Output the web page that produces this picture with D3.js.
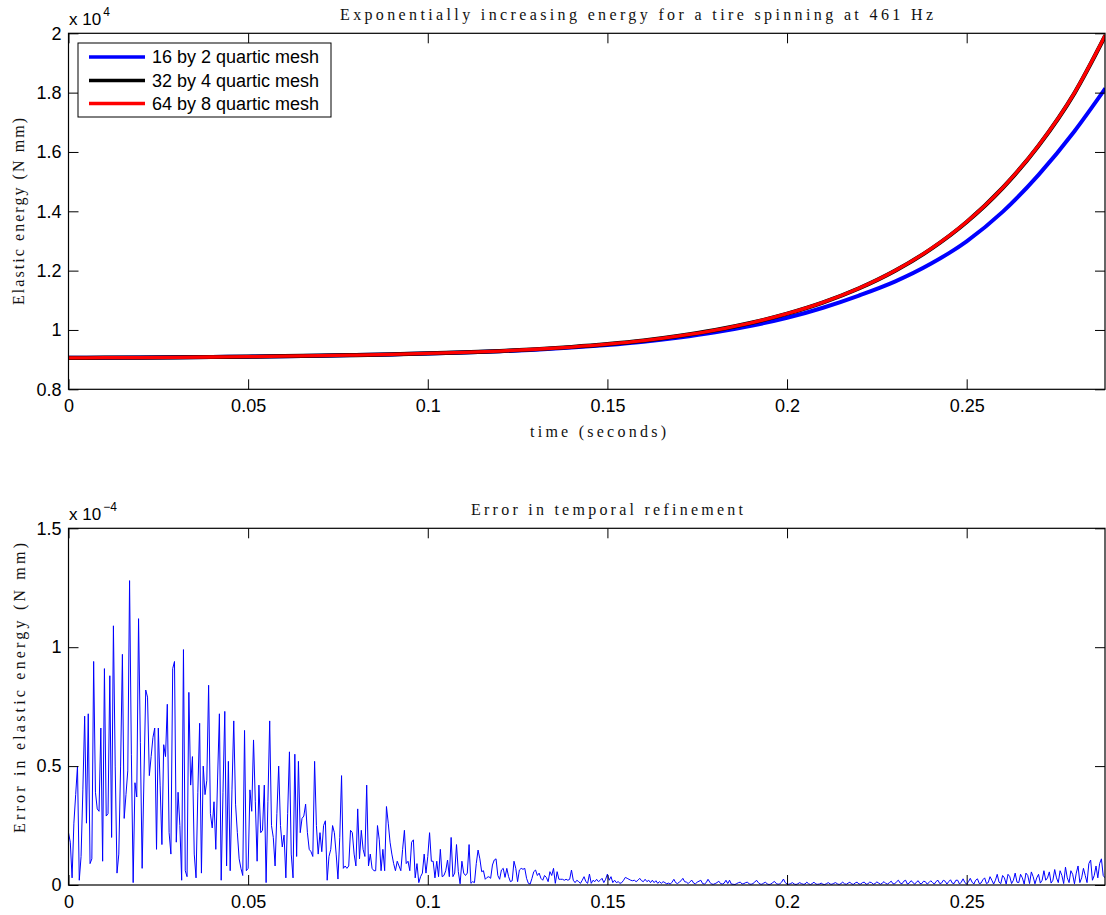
<!DOCTYPE html>
<html><head><meta charset="utf-8">
<script src="https://cdn.jsdelivr.net/npm/d3@7"></script>
<style>body{margin:0;background:#fff} svg{display:block}</style>
</head><body>
<svg id="c" width="1106" height="915"></svg>
<script>
// ---------- data ----------
const timeE = [0,0.01,0.02,0.03,0.04,0.05,0.06,0.07,0.08,0.09,0.10,0.11,0.12,0.13,0.14,0.15,0.16,0.17,0.18,0.19,0.20,0.21,0.22,0.23,0.24,0.25,0.26,0.27,0.28,0.2886];
const energy16 = [9060,9065,9070,9078,9088,9100,9114,9130,9152,9177,9205,9238,9280,9336,9405,9495,9605,9745,9920,10140,10410,10750,11160,11630,12230,12990,13980,15230,16700,18145];
const energy32 = [9060,9065,9070,9078,9088,9100,9115,9132,9155,9180,9210,9245,9290,9350,9425,9520,9640,9800,9995,10240,10545,10925,11400,11990,12725,13640,14785,16210,17985,19925];
const energy64 = [9060,9065,9070,9078,9088,9100,9115,9132,9155,9180,9210,9245,9290,9350,9425,9520,9640,9800,9997,10242,10548,10929,11403,11994,12731,13649,14793,16219,17995,19940];
const seriesNames = ["16 by 2 quartic mesh","32 by 4 quartic mesh","64 by 8 quartic mesh"];
const seriesColors = ["#0000ff","#000000","#ff0000"];

const errStep = 0.0005;          // seconds between samples
const errorE4 = [                // error, in units of 1e-4 N mm
0.22,0.18,0.03,0.26,0.38,0.50,0.02,0.12,0.40,0.71,
0.26,0.72,0.09,0.11,0.94,0.39,0.32,0.31,0.66,0.10,
0.91,0.29,0.30,0.88,0.20,1.09,0.50,0.05,0.13,0.50,
0.97,0.28,0.38,0.48,1.28,0.55,0.01,0.43,0.37,1.12,
0.60,0.07,0.45,0.82,0.79,0.46,0.54,0.62,0.66,0.15,
0.66,0.42,0.17,0.59,0.54,0.76,0.22,0.13,0.91,0.94,
0.18,0.39,0.25,0.02,0.99,0.06,0.035,0.81,0.42,0.54,
0.13,0.03,0.39,0.68,0.05,0.50,0.38,0.44,0.84,0.30,
0.24,0.35,0.15,0.45,0.72,0.02,0.39,0.73,0.08,0.52,
0.06,0.40,0.69,0.34,0.22,0.11,0.07,0.04,0.65,0.06,
0.07,0.40,0.31,0.61,0.35,0.10,0.42,0.22,0.23,0.42,
0.01,0.35,0.69,0.25,0.20,0.08,0.30,0.50,0.25,0.16,
0.21,0.03,0.30,0.56,0.13,0.03,0.55,0.12,0.52,0.22,
0.28,0.29,0.34,0.22,0.15,0.14,0.12,0.52,0.25,0.13,
0.22,0.14,0.25,0.27,0.02,0.12,0.15,0.25,0.22,0.13,
0.025,0.20,0.46,0.07,0.08,0.07,0.08,0.23,0.22,0.13,
0.08,0.32,0.11,0.23,0.15,0.12,0.42,0.08,0.13,0.07,
0.06,0.06,0.25,0.19,0.06,0.15,0.06,0.33,0.26,0.18,
0.13,0.09,0.06,0.10,0.08,0.06,0.15,0.23,0.09,0.10,
0.06,0.18,0.19,0.03,0.09,0.01,0.035,0.05,0.13,0.05,
0.12,0.22,0.10,0.10,0.03,0.10,0.035,0.15,0.035,0.04,
0.06,0.105,0.035,0.20,0.035,0.05,0.17,0.056,0.005,0.10,
0.05,0.04,0.05,0.17,0.007,0.014,0.01,0.09,0.147,0.11,
0.056,0.06,0.024,0.032,0.035,0.028,0.084,0.105,0.11,0.04,
0.024,0.063,0.07,0.032,0.07,0.035,0.014,0.018,0.10,0.07,
0.014,0.063,0.07,0.066,0.07,0.028,0.007,0.004,0.028,0.056,
0.063,0.04,0.05,0.028,0.02,0.04,0.032,0.014,0.056,0.04,
0.07,0.007,0.056,0.024,0.024,0.024,0.02,0.024,0.02,0.024,
0.063,0.02,0.01,0.02,0.014,0.007,0.02,0.035,0.014,0.007,
0.046,0.007,0.02,0.014,0.024,0.014,0.02,0.028,0.01,0.024,
0.046,0.02,0.035,0.01,0.02,0.01,0.014,0.007,0.01,0.02,
0.032,0.028,0.024,0.02,0.018,0.02,0.014,0.02,0.028,0.018,
0.014,0.024,0.014,0.02,0.01,0.02,0.01,0.018,0.007,0.014,
0.007,0.014,0.01,0.005,0.008,0.004,0.012,0.024,0.01,0.006,
0.012,0.018,0.028,0.014,0.012,0.006,0.014,0.02,0.008,0.005,
0.012,0.016,0.02,0.006,0.004,0.01,0.024,0.012,0.004,0.003,
0.006,0.01,0.016,0.006,0.004,0.008,0.02,0.006,0.02,0.004,
0.003,0.002,0.006,0.01,0.012,0.004,0.006,0.01,0.012,0.004,
0.003,0.006,0.012,0.02,0.01,0.004,0.003,0.008,0.012,0.004,
0.002,0.004,0.01,0.015,0.006,0.003,0.005,0.012,0.025,0.01,
0.004,0.003,0.006,0.01,0.004,0.002,0.005,0.01,0.006,0.003,
0.004,0.012,0.005,0.002,0.006,0.012,0.004,0.003,0.004,0.008,
0.003,0.002,0.006,0.01,0.004,0.003,0.007,0.01,0.005,0.002,
0.006,0.012,0.005,0.003,0.008,0.012,0.004,0.003,0.009,0.012,
0.004,0.004,0.01,0.012,0.003,0.005,0.012,0.01,0.003,0.006,
0.013,0.008,0.003,0.008,0.014,0.006,0.004,0.01,0.016,0.005,
0.005,0.014,0.02,0.008,0.005,0.016,0.02,0.004,0.008,0.018,
0.012,0.003,0.012,0.018,0.006,0.006,0.016,0.014,0.004,0.01,
0.018,0.01,0.004,0.015,0.02,0.006,0.008,0.02,0.016,0.004,
0.014,0.022,0.008,0.006,0.02,0.02,0.004,0.012,0.026,0.01,
0.004,0.014,0.028,0.012,0.004,0.02,0.026,0.006,0.008,0.022,
0.03,0.006,0.01,0.035,0.02,0.004,0.02,0.045,0.012,0.006,
0.04,0.03,0.004,0.045,0.035,0.006,0.02,0.05,0.012,0.01,
0.045,0.03,0.004,0.05,0.04,0.006,0.055,0.035,0.005,0.03,
0.045,0.008,0.02,0.06,0.02,0.03,0.055,0.008,0.02,0.065,
0.03,0.01,0.06,0.04,0.006,0.075,0.03,0.01,0.06,0.045,
0.005,0.05,0.08,0.01,0.03,0.07,0.04,0.01,0.09,0.105,
0.02,0.04,0.08,0.03,0.09,0.11,0.04,0.03
];

const xTicks = [0,0.05,0.1,0.15,0.2,0.25];
const xTickLabels = ["0","0.05","0.1","0.15","0.2","0.25"];
const yTicksTop = [8000,10000,12000,14000,16000,18000,20000];
const yTickLabelsTop = ["0.8","1","1.2","1.4","1.6","1.8","2"];
const yTicksBot = [0,0.5,1,1.5];
const yTickLabelsBot = ["0","0.5","1","1.5"];

const titleTop = "Exponentially increasing energy for a tire spinning at 461 Hz";
const titleBot = "Error in temporal refinement";
const xLabel = "time (seconds)";
const yLabelTop = "Elastic energy (N mm)";
const yLabelBot = "Error in elastic energy (N mm)";

// ---------- drawing ----------
const svg = d3.select("#c");
const L = 68.5, R = 1105;
const topP = {t:33.3, b:389.3};
const botP = {t:528.3, b:885};
const SANS = "'Liberation Sans', Arial, Helvetica, sans-serif";
const SERIF = "'Liberation Serif', 'DejaVu Serif', serif";

const x = d3.scaleLinear().domain([0, 0.2885]).range([L, R]);
const yTop = d3.scaleLinear().domain([8000, 20000]).range([topP.b, topP.t]);
const yBot = d3.scaleLinear().domain([0, 1.5]).range([botP.b, botP.t]);

const defs = svg.append("defs");
defs.append("clipPath").attr("id","clipTop").append("rect")
  .attr("x",L).attr("y",topP.t).attr("width",R-L).attr("height",topP.b-topP.t);
defs.append("clipPath").attr("id","clipBot").append("rect")
  .attr("x",L).attr("y",botP.t).attr("width",R-L).attr("height",botP.b-botP.t);

function frame(p, yScale, yTicks, yLabels){
  const g = svg.append("g");
  const ax = (axis, tx, ty, labels) => {
    const a = g.append("g").attr("transform",`translate(${tx},${ty})`).call(axis);
    a.select(".domain").remove();
    a.selectAll("line").attr("stroke","#000").attr("stroke-width",1);
    a.selectAll("text").attr("font-family",SANS).attr("font-size",18).attr("fill","#000");
    if(!labels) a.selectAll("text").remove();
    return a;
  };
  ax(d3.axisBottom(x).tickValues(xTicks).tickFormat((d,i)=>xTickLabels[i]).tickSizeInner(-10).tickSizeOuter(0).tickPadding(10), 0, p.b, true);
  ax(d3.axisTop(x).tickValues(xTicks).tickSizeInner(-10).tickSizeOuter(0), 0, p.t, false);
  ax(d3.axisLeft(yScale).tickValues(yTicks).tickFormat((d,i)=>yLabels[i]).tickSizeInner(-10).tickSizeOuter(0).tickPadding(7), L, 0, true);
  ax(d3.axisRight(yScale).tickValues(yTicks).tickSizeInner(-10).tickSizeOuter(0), R, 0, false);
  g.append("rect").attr("x",L).attr("y",p.t).attr("width",R-L).attr("height",p.b-p.t)
    .attr("fill","none").attr("stroke","#000").attr("stroke-width",1.2);
  return g;
}

// ----- top plot -----
const lineE = d3.line().x(d=>x(d[0])).y(d=>yTop(d[1])).curve(d3.curveMonotoneX);
const gTop = svg.append("g").attr("clip-path","url(#clipTop)");
const energySeries = [energy16, energy32, energy64];
const widths = [4, 4.2, 3.3];
energySeries.forEach((s,k)=>{
  gTop.append("path").datum(timeE.map((t,i)=>[t,s[i]]))
    .attr("d",lineE).attr("fill","none").attr("stroke",seriesColors[k])
    .attr("stroke-width",widths[k]).attr("stroke-linejoin","round");
});
frame(topP, yTop, yTicksTop, yTickLabelsTop);

// exponent label
const ex1 = svg.append("text").attr("x",69).attr("y",25).attr("font-family",SANS).attr("font-size",17);
ex1.append("tspan").text("x 10");
ex1.append("tspan").attr("font-size",12).attr("dy",-9).attr("dx",2).text("4");

// legend
const lg = svg.append("g");
lg.append("rect").attr("x",78).attr("y",43).attr("width",253).attr("height",74)
  .attr("fill","#fff").attr("stroke","#000").attr("stroke-width",1);
const rowsY = [57, 80.5, 103.5];
seriesNames.forEach((n,k)=>{
  lg.append("line").attr("x1",89).attr("x2",145).attr("y1",rowsY[k]).attr("y2",rowsY[k])
    .attr("stroke",seriesColors[k]).attr("stroke-width",3.5);
  lg.append("text").attr("x",152).attr("y",rowsY[k]).attr("dy","0.36em")
    .attr("font-family",SANS).attr("font-size",18).text(n);
});

// titles and labels (serif)
function serifText(str, xx, yy, len, rot){
  const t = svg.append("text").attr("font-family",SERIF).attr("font-size",16).attr("fill","#111")
    .attr("textLength",len).attr("lengthAdjust","spacing").text(str);
  if(rot){ t.attr("transform",`translate(${xx},${yy}) rotate(-90)`); }
  else { t.attr("x",xx).attr("y",yy); }
  return t;
}
serifText(titleTop, 340, 20, 593, false);
serifText(xLabel, 530, 437, 136, false);
serifText(yLabelTop, 24, 305, 187, true);
serifText(titleBot, 471, 515, 272, false);
serifText(yLabelBot, 25, 833, 290, true);

// ----- bottom plot -----
const lineErr = d3.line().x((d,i)=>x(i*errStep)).y(d=>yBot(d));
svg.append("g").attr("clip-path","url(#clipBot)")
  .append("path").datum(errorE4).attr("d",lineErr).attr("fill","none")
  .attr("stroke","#0000ff").attr("stroke-width",1).attr("stroke-linejoin","round");
frame(botP, yBot, yTicksBot, yTickLabelsBot);

const ex2 = svg.append("text").attr("x",69).attr("y",520).attr("font-family",SANS).attr("font-size",17);
ex2.append("tspan").text("x 10");
ex2.append("tspan").attr("font-size",12).attr("dy",-9).attr("dx",2).text("\u22124");
</script>
</body></html>
